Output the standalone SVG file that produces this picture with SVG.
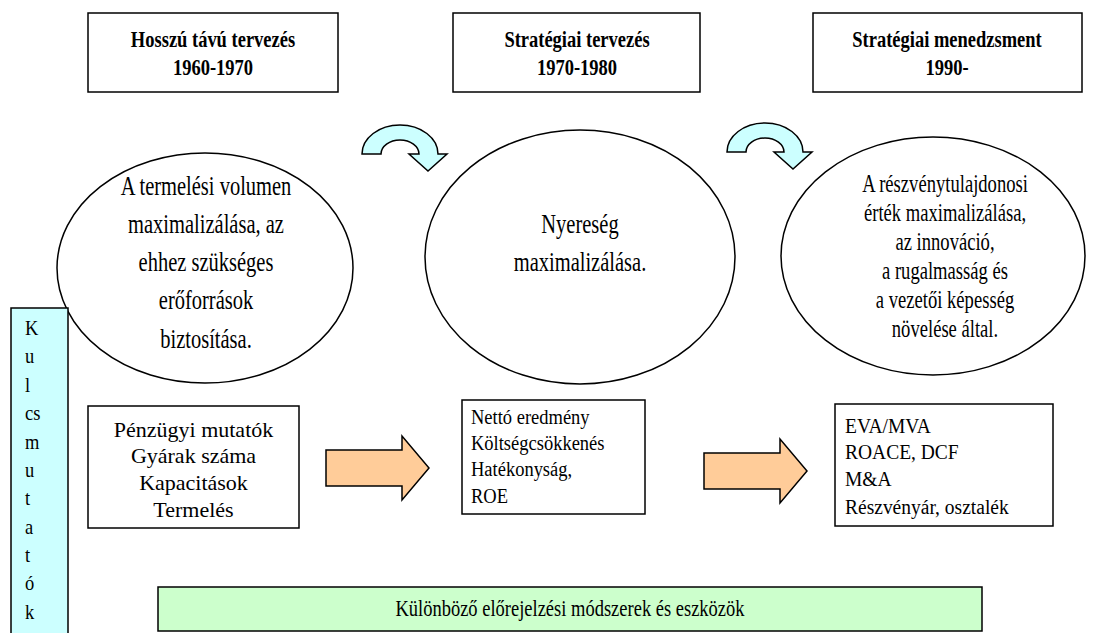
<svg xmlns="http://www.w3.org/2000/svg" width="1101" height="633" viewBox="0 0 1101 633">
<style>
.box{fill:#fff;stroke:#000;stroke-width:1.5}
.ell{fill:#fff;stroke:#000;stroke-width:1.5}
.cyan{fill:#CCFFFF;stroke:#000;stroke-width:1.5}
.orange{fill:#FFCC99;stroke:#000;stroke-width:1.5}
.green{fill:#CCFFCC;stroke:#000;stroke-width:1.5}
text{font-family:"Liberation Serif","Times New Roman",serif;fill:#000}
.hd{font-size:18.5px;font-weight:bold;text-anchor:middle}
.el{font-size:20.5px;text-anchor:middle}
.er{font-size:18.6px;text-anchor:middle}
.bc{font-size:18.5px;text-anchor:middle}
.b1{font-size:22px;text-anchor:middle}
.bl{font-size:18.5px}
.b3{font-size:19.5px}
</style>
<defs>
<path id="curl" d="M362,154 A38,29 0 0 1 438,154 L447,154 L428,171 L409,154 L419,154 A19,14 0 0 0 381,154 Z"/>
<path id="fat" d="M326,450 H402 V436 L429,468 L402,500 V486 H326 Z"/>
</defs>

<g id="header1">
<rect class="box" x="88" y="13" width="250" height="79"/>
<text class="hd" transform="translate(213,47) scale(1,1.3)">Hosszú távú tervezés</text>
<text class="hd" transform="translate(213,75) scale(1,1.3)">1960-1970</text>
</g>
<g id="header2">
<rect class="box" x="453" y="13" width="247" height="79"/>
<text class="hd" transform="translate(577,47) scale(1,1.3)">Stratégiai tervezés</text>
<text class="hd" transform="translate(577,75) scale(1,1.3)">1970-1980</text>
</g>
<g id="header3">
<rect class="box" x="813" y="13" width="269" height="79"/>
<text class="hd" transform="translate(947,47) scale(1,1.3)">Stratégiai menedzsment</text>
<text class="hd" transform="translate(947,75) scale(1,1.3)">1990-</text>
</g>

<g id="goal1">
<ellipse class="ell" cx="205" cy="268" rx="148" ry="115"/>
<text class="el" transform="translate(206,195) scale(1,1.38)">A termelési volumen</text>
<text class="el" transform="translate(206,233) scale(1,1.38)">maximalizálása, az</text>
<text class="el" transform="translate(206,271) scale(1,1.38)">ehhez szükséges</text>
<text class="el" transform="translate(206,309) scale(1,1.38)">erőforrások</text>
<text class="el" transform="translate(206,348) scale(1,1.38)">biztosítása.</text>
</g>
<g id="goal2">
<ellipse class="ell" cx="580" cy="257" rx="155" ry="127"/>
<text class="el" transform="translate(580,233) scale(1,1.38)">Nyereség</text>
<text class="el" transform="translate(580,271) scale(1,1.38)">maximalizálása.</text>
</g>
<g id="goal3">
<ellipse class="ell" cx="933" cy="256" rx="152" ry="119"/>
<text class="er" transform="translate(945,192) scale(1,1.3)">A részvénytulajdonosi</text>
<text class="er" transform="translate(945,221) scale(1,1.3)">érték maximalizálása,</text>
<text class="er" transform="translate(945,250) scale(1,1.3)">az innováció,</text>
<text class="er" transform="translate(945,279) scale(1,1.3)"> a rugalmasság és</text>
<text class="er" transform="translate(945,308) scale(1,1.3)">a vezetői képesség</text>
<text class="er" transform="translate(945,337) scale(1,1.3)">növelése által.</text>
</g>

<g id="kulcsmutatok">
<rect class="cyan" x="11" y="308" width="57" height="335"/>
<text class="bl" transform="translate(25,335) scale(1,1.15)">K</text>
<text class="bl" transform="translate(25,363) scale(1,1.15)">u</text>
<text class="bl" transform="translate(25,392) scale(1,1.15)">l</text>
<text class="bl" transform="translate(25,420) scale(1,1.15)">cs</text>
<text class="bl" transform="translate(25,449) scale(1,1.15)">m</text>
<text class="bl" transform="translate(25,477) scale(1,1.15)">u</text>
<text class="bl" transform="translate(25,505) scale(1,1.15)">t</text>
<text class="bl" transform="translate(25,534) scale(1,1.15)">a</text>
<text class="bl" transform="translate(25,562) scale(1,1.15)">t</text>
<text class="bl" transform="translate(25,590) scale(1,1.15)">ó</text>
<text class="bl" transform="translate(25,619) scale(1,1.15)">k</text>
</g>

<g id="metrics1">
<rect class="box" x="88" y="406" width="211" height="122"/>
<text class="b1" transform="translate(193.5,437)">Pénzügyi mutatók</text>
<text class="b1" transform="translate(193.5,463)">Gyárak száma</text>
<text class="b1" transform="translate(193.5,490)">Kapacitások</text>
<text class="b1" transform="translate(193.5,517)">Termelés</text>
</g>
<g id="metrics2">
<rect class="box" x="462" y="400" width="183" height="114"/>
<text class="bl" transform="translate(471,424) scale(1,1.18)">Nettó eredmény</text>
<text class="bl" transform="translate(471,450) scale(1,1.18)">Költségcsökkenés</text>
<text class="bl" transform="translate(471,476) scale(1,1.18)">Hatékonyság,</text>
<text class="bl" transform="translate(471,503) scale(1,1.18)"> ROE</text>
</g>
<g id="metrics3">
<rect class="box" x="835" y="404" width="218" height="122"/>
<text class="b3" transform="translate(845,433) scale(1,1.12)">EVA/MVA</text>
<text class="b3" transform="translate(845,459) scale(1,1.12)">ROACE, DCF</text>
<text class="b3" transform="translate(845,486) scale(1,1.12)">M&amp;A</text>
<text class="b3" transform="translate(845,514) scale(1,1.12)">Részvényár, osztalék</text>
</g>

<g id="forecast">
<rect class="green" x="158" y="587" width="824" height="44"/>
<text class="bc" transform="translate(570,616) scale(1,1.2)">Különböző előrejelzési módszerek és eszközök</text>
</g>

<g id="connectors">
<use href="#curl" class="cyan"/>
<use href="#curl" class="cyan" transform="translate(365,-2)"/>
<use href="#fat" class="orange"/>
<use href="#fat" class="orange" transform="translate(378,3)"/>
</g>
</svg>
